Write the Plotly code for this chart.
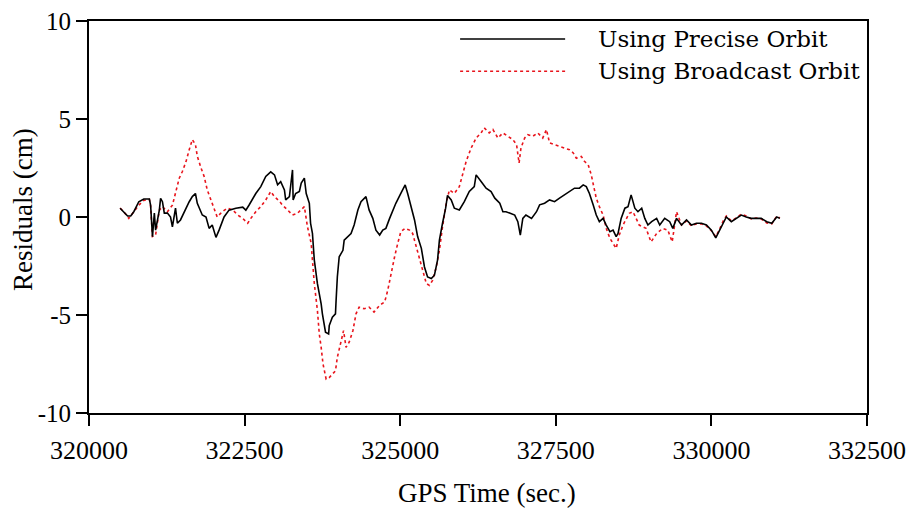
import plotly.graph_objects as go

# GPS time (s) and carrier-phase residuals (cm) for the precise-orbit solution
precise_t = [
    320500, 320560, 320620, 320670, 320720, 320800, 320880, 320970, 320990, 321020,
    321050, 321070, 321130, 321150, 321180, 321210, 321260, 321310, 321340, 321390,
    321420, 321470, 321530, 321610, 321660, 321710, 321740, 321820, 321880, 321930,
    321980, 322040, 322090, 322170, 322250, 322360, 322470, 322520, 322570, 322680,
    322760, 322840, 322920, 322980, 323030, 323080, 323140, 323160, 323220, 323270,
    323280, 323320, 323380, 323410, 323460, 323490, 323540, 323560, 323590, 323620,
    323670, 323700, 323730, 323750, 323800, 323850, 323860, 323910, 323960, 323970,
    323990, 324020, 324080, 324100, 324160, 324210, 324260, 324320, 324370, 324420,
    324450, 324500, 324560, 324610, 324670, 324720, 324770, 324830, 324880, 324930,
    325010, 325080, 325120, 325170, 325230, 325280, 325340, 325390, 325440, 325500,
    325550, 325600, 325630, 325680, 325730, 325760, 325820, 325870, 325950, 326030,
    326110, 326190, 326220, 326300, 326380, 326460, 326520, 326600, 326650, 326700,
    326780, 326840, 326890, 326930, 326970, 327020, 327110, 327190, 327240, 327320,
    327400, 327480, 327560, 327640, 327720, 327800, 327880, 327940, 327990, 328040,
    328100, 328150, 328200, 328260, 328310, 328370, 328420, 328470, 328500, 328550,
    328610, 328660, 328710, 328770, 328820, 328880, 328930, 328980, 329040, 329120,
    329170, 329250, 329330, 329380, 329440, 329520, 329600, 329680, 329760, 329840,
    329920, 330000, 330070, 330120, 330190, 330240, 330320, 330400, 330480, 330560,
    330640, 330720, 330800, 330890, 330970, 331050, 331100,
]
precise_cm = [
    0.45, 0.27, 0.05, 0.05, 0.27, 0.78, 0.92, 0.92, 0.60, -1.00,
    0.20, -0.67, 0.35, 0.95, 0.78, 0.20, 0.20, 0.00, -0.50, 0.45,
    -0.32, -0.15, 0.27, 0.78, 1.04, 1.20, 0.70, 0.10, 0.00, -0.58,
    -0.41, -1.04, -0.67, 0.00, 0.35, 0.45, 0.50, 0.35, 0.60, 1.20,
    1.55, 2.07, 2.30, 2.15, 1.64, 1.80, 1.38, 0.87, 1.04, 2.40,
    0.87, 1.20, 1.30, 1.73, 1.98, 1.20, 0.70, -0.32, -0.84, -2.20,
    -3.40, -3.90, -4.43, -4.94, -5.88, -5.97, -5.54, -5.11, -4.94, -4.26,
    -3.06, -2.03, -1.70, -1.18, -1.00, -0.84, -0.41, 0.36, 0.78, 0.96,
    1.04, 0.36, -0.07, -0.67, -0.92, -0.67, -0.58, -0.07, 0.36, 0.70,
    1.20, 1.64, 1.20, 0.53, -0.15, -1.00, -1.60, -2.55, -3.06, -3.14,
    -2.97, -2.20, -1.18, -0.32, 0.45, 1.10, 0.87, 0.45, 0.36, 0.78,
    1.30, 1.55, 2.15, 1.81, 1.47, 1.30, 0.96, 0.70, 0.27, 0.27,
    0.19, 0.10, -0.24, -0.92, -0.07, 0.10, -0.07, 0.27, 0.62, 0.70,
    0.87, 0.78, 0.96, 1.13, 1.30, 1.47, 1.47, 1.64, 1.55, 1.20,
    0.62, 0.10, -0.24, -0.07, -0.41, -0.75, -0.67, -1.00, -0.84, -0.07,
    0.45, 0.53, 1.13, 0.45, 0.27, 0.45, -0.07, -0.41, -0.24, -0.07,
    -0.41, -0.07, -0.24, -0.58, -0.07, -0.41, -0.15, -0.41, -0.32, -0.32,
    -0.41, -0.67, -1.06, -0.75, -0.24, 0.00, -0.24, -0.07, 0.10, 0.00,
    -0.07, -0.07, -0.07, -0.24, -0.32, 0.00, -0.07,
]

# GPS time (s) and residuals (cm) for the broadcast-orbit solution
broadcast_t = [
    320500, 320560, 320640, 320720, 320800, 320880, 320970, 320990, 321020, 321070,
    321130, 321180, 321260, 321340, 321390, 321420, 321450, 321500, 321560, 321610,
    321660, 321710, 321740, 321800, 321850, 321900, 321960, 322010, 322060, 322140,
    322220, 322310, 322390, 322470, 322550, 322600, 322680, 322760, 322840, 322920,
    322980, 323060, 323110, 323190, 323270, 323350, 323400, 323460, 323510, 323570,
    323590, 323620, 323670, 323700, 323730, 323760, 323810, 323860, 323910, 323960,
    323990, 324050, 324090, 324130, 324180, 324240, 324290, 324340, 324420, 324500,
    324580, 324670, 324750, 324800, 324850, 324910, 324960, 325010, 325080, 325150,
    325200, 325260, 325310, 325360, 325420, 325470, 325520, 325580, 325630, 325680,
    325740, 325790, 325870, 325950, 326000, 326060, 326140, 326220, 326300, 326350,
    326430, 326490, 326570, 326650, 326730, 326810, 326870, 326910, 326940, 327000,
    327050, 327130, 327210, 327290, 327350, 327400, 327480, 327560, 327640, 327720,
    327780, 327830, 327910, 327960, 328020, 328070, 328110, 328150, 328200, 328260,
    328310, 328370, 328420, 328470, 328520, 328580, 328680, 328740, 328840, 328950,
    329030, 329120, 329220, 329300, 329370, 329440, 329520, 329600, 329680, 329760,
    329840, 329920, 330000, 330070, 330120, 330190, 330240, 330320, 330400, 330480,
    330560, 330640, 330720, 330800, 330890, 330970, 331050, 331100,
]
broadcast_cm = [
    0.45, 0.27, -0.07, 0.27, 0.60, 0.85, 0.90, 0.55, -1.00, -0.92,
    0.35, 0.53, 0.27, 0.60, 1.30, 1.73, 1.98, 2.32, 2.84, 3.43,
    3.95, 3.70, 3.10, 2.50, 2.07, 1.38, 0.87, 0.36, 0.00, 0.27,
    0.45, 0.36, 0.10, -0.07, -0.32, -0.07, 0.27, 0.53, 0.87, 1.30,
    1.04, 0.80, 0.60, 0.36, 0.10, 0.19, 0.36, 0.53, -0.50, -1.35,
    -2.20, -3.40, -4.77, -5.97, -6.65, -7.50, -8.27, -8.19, -8.02, -7.85,
    -7.16, -6.39, -5.80, -6.65, -6.39, -5.80, -4.94, -4.60, -4.68, -4.60,
    -4.85, -4.50, -4.34, -3.74, -2.89, -2.03, -1.35, -0.75, -0.58, -0.67,
    -0.84, -1.52, -2.20, -2.72, -3.40, -3.49, -3.23, -2.55, -1.70, -0.50,
    0.70, 1.38, 1.20, 1.55, 2.15, 2.84, 3.52, 4.03, 4.29, 4.55,
    4.29, 4.46, 4.03, 4.29, 4.12, 3.95, 3.69, 2.75, 3.52, 4.03,
    4.20, 4.12, 4.29, 4.03, 4.46, 3.78, 3.69, 3.60, 3.52, 3.43,
    3.27, 3.00, 3.09, 2.84, 2.67, 2.15, 1.55, 0.96, 0.53, 0.10,
    -0.58, -1.09, -1.35, -1.60, -0.92, -0.41, 0.19, 0.27, -0.41, -0.58,
    -1.27, -0.84, -0.58, -0.67, -1.27, 0.27, -0.41, -0.20, -0.45, -0.35,
    -0.35, -0.45, -0.70, -1.00, -0.70, -0.20, 0.05, -0.20, -0.05, 0.15,
    0.05, -0.10, -0.05, -0.10, -0.30, -0.35, 0.05, -0.05,
]

x_ticks = [320000, 322500, 325000, 327500, 330000, 332500]
y_ticks = [-10, -5, 0, 5, 10]
series_names = ["Using Precise Orbit", "Using Broadcast Orbit"]
x_title = "GPS Time (sec.)"
y_title = "Residuals (cm)"

SERIF = "Liberation Serif, Times New Roman, serif"
KEY_FONT = "DejaVu Serif, serif"
BLACK = "#000000"
RED = "#e8141c"

fig = go.Figure()
fig.add_trace(go.Scatter(
    x=broadcast_t, y=broadcast_cm, mode="lines", name=series_names[1],
    line=dict(color=RED, width=1.6, dash="dot"), showlegend=False,
))
fig.add_trace(go.Scatter(
    x=precise_t, y=precise_cm, mode="lines", name=series_names[0],
    line=dict(color=BLACK, width=1.6), showlegend=False,
))

# Hand-placed key in the upper right of the plotting area
key_rows = [(0.954, BLACK, "solid"), (0.872, RED, "dot")]
for (ypos, color, dash), label in zip(key_rows, series_names):
    fig.add_shape(type="line", xref="paper", yref="paper",
                  x0=0.477, x1=0.612, y0=ypos, y1=ypos,
                  line=dict(color=color, width=1.4, dash=dash))
    fig.add_annotation(xref="paper", yref="paper", x=0.652, y=ypos,
                       text=label, showarrow=False, xanchor="left",
                       yanchor="middle",
                       font=dict(family=KEY_FONT, size=23, color=BLACK))

# Axis titles placed as free text so the frame keeps its fixed margins
fig.add_annotation(xref="paper", yref="paper", x=0.512, y=-0.204,
                   text=x_title, showarrow=False,
                   xanchor="center", yanchor="middle",
                   font=dict(family=SERIF, size=27, color=BLACK))
fig.add_annotation(xref="paper", yref="paper", x=-0.085, y=0.52,
                   text=y_title, showarrow=False, textangle=-90,
                   xanchor="center", yanchor="middle",
                   font=dict(family=SERIF, size=27, color=BLACK))

axis_common = dict(
    showline=True, linecolor=BLACK, linewidth=2, mirror=True,
    ticks="outside", ticklen=11, tickwidth=1.5, tickcolor=BLACK,
    showgrid=False, zeroline=False, automargin=False,
)

fig.update_layout(
    width=912, height=510,
    margin=dict(l=89, r=45, t=21, b=97),
    paper_bgcolor="white", plot_bgcolor="white",
    xaxis=dict(range=[320000, 332500], tickvals=x_ticks,
               ticktext=[str(v) for v in x_ticks],
               tickfont=dict(family=SERIF, size=26, color=BLACK),
               ticklabelstandoff=2,
               **axis_common),
    yaxis=dict(range=[-10, 10], tickvals=y_ticks,
               ticktext=[str(v) for v in y_ticks],
               tickfont=dict(family=SERIF, size=25, color=BLACK),
               **axis_common),
)

fig.write_html("out.html")
